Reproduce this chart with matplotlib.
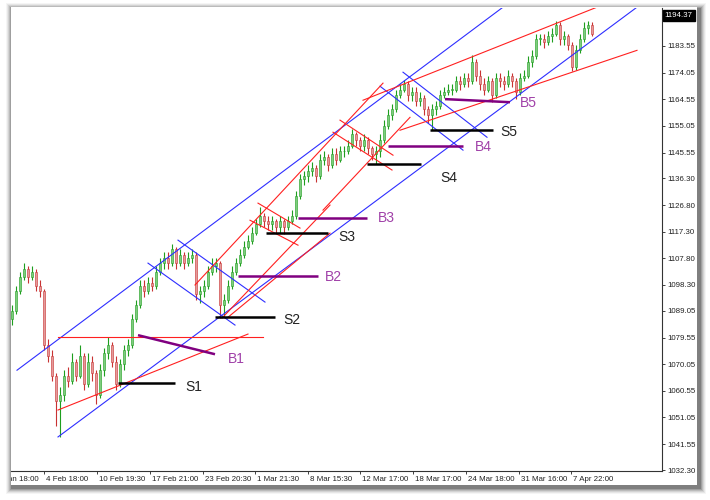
import matplotlib
matplotlib.use("Agg")
import matplotlib.pyplot as plt
from matplotlib.patches import Rectangle
from matplotlib.transforms import Bbox, TransformedBbox, blended_transform_factory

plt.rcParams['font.family'] = ['Liberation Sans', 'DejaVu Sans']

# bar data, one bar per slot (x = bar number)
first_open = 1086
closes = [
    1089, 1096, 1101, 1104, 1101, 1103, 1098, 1096, 1077, 1073,
    1066, 1057, 1059, 1066, 1064, 1071, 1066, 1073, 1063, 1071,
    1067, 1059, 1068, 1074, 1077, 1071, 1063, 1070, 1075, 1077,
    1086, 1091, 1098, 1096, 1099, 1098, 1103, 1106, 1108, 1106,
    1111, 1106, 1109, 1106, 1108, 1109, 1095, 1096, 1098, 1103,
    1105, 1106, 1091, 1093, 1098, 1103, 1106, 1109, 1112, 1114,
    1117, 1120, 1123, 1121, 1120, 1121, 1119, 1121, 1119, 1121,
    1123, 1130, 1136, 1137, 1139, 1140, 1137, 1143, 1144, 1141,
    1145, 1143, 1146, 1146, 1148, 1152, 1150, 1148, 1150, 1147,
    1145, 1146, 1150, 1155, 1159, 1161, 1166, 1168, 1170, 1166,
    1167, 1164, 1165, 1161, 1159, 1161, 1162, 1166, 1167, 1168,
    1168, 1171, 1170, 1172, 1171, 1178, 1173, 1170, 1168, 1171,
    1166, 1172, 1171, 1170, 1173, 1171, 1167, 1172, 1173, 1178,
    1180, 1186, 1186, 1185, 1187, 1188, 1191, 1186, 1187, 1184,
    1176, 1182, 1186, 1190, 1191, 1188,
]
highs = [
    1091, 1098, 1103, 1106, 1105, 1105, 1104, 1100, 1097, 1079,
    1075, 1067, 1062, 1068, 1069, 1074, 1072, 1077, 1074, 1074,
    1073, 1068, 1070, 1076, 1079.6, 1078, 1073, 1072, 1077, 1079,
    1088, 1093, 1100, 1100, 1101, 1101, 1105, 1108, 1110, 1110,
    1113, 1112, 1111, 1110, 1110, 1111, 1110, 1098, 1100, 1105,
    1108, 1108, 1107, 1095, 1100, 1105, 1108, 1111, 1114, 1116,
    1119, 1122, 1126, 1124, 1123, 1123, 1122, 1123, 1122, 1123,
    1125, 1132, 1138, 1139, 1141, 1142, 1141, 1145, 1146, 1145,
    1147, 1147, 1148, 1148, 1150, 1154, 1153, 1151, 1152, 1151,
    1148, 1148, 1152, 1157, 1161, 1163, 1168, 1170, 1171.5, 1171,
    1169, 1169, 1167, 1166, 1162, 1163, 1164, 1168, 1169, 1170,
    1170, 1173, 1173, 1174, 1174, 1180.5, 1179, 1175, 1172, 1173,
    1172, 1174, 1174, 1173, 1175, 1174, 1172, 1174, 1175, 1180,
    1182, 1188, 1188, 1188, 1189, 1190, 1192.5, 1192, 1189, 1188,
    1185, 1184, 1188, 1192, 1192.5, 1192,
]
lows = [
    1084, 1088, 1095, 1100, 1099, 1100, 1096, 1094, 1075, 1071,
    1064, 1048, 1044, 1057, 1062, 1063, 1064, 1065, 1061, 1062,
    1064, 1056, 1058, 1066, 1072, 1069, 1061, 1062, 1068, 1073,
    1076, 1085, 1090, 1094, 1095, 1096, 1097, 1102, 1104, 1104,
    1105, 1104, 1105, 1104, 1105, 1106, 1093, 1092, 1094, 1097,
    1102, 1103, 1086.5, 1087, 1092, 1097, 1102, 1105, 1108, 1111,
    1113, 1116, 1119, 1119, 1118, 1118, 1117, 1117, 1116.5, 1118,
    1120, 1122, 1129, 1134, 1135, 1137, 1135, 1136, 1141, 1139,
    1140, 1141, 1142, 1144, 1145, 1147, 1148, 1146, 1146, 1145,
    1143, 1141.5, 1144, 1149, 1154, 1157, 1160, 1165, 1167, 1164,
    1164, 1162, 1162, 1159, 1156, 1153.5, 1159, 1161, 1165, 1166,
    1166, 1167, 1168, 1169, 1169, 1170, 1171, 1168, 1166, 1167,
    1163.5, 1165, 1169, 1168, 1169, 1169, 1164.5, 1166, 1171, 1172,
    1176, 1179, 1184, 1183, 1184, 1185, 1187, 1184, 1184, 1182,
    1174.5, 1175, 1181, 1185, 1188, 1187,
]
opens = [first_open] + closes[:-1]

# price scale
price_ticks = [1032.30, 1041.55, 1051.05, 1060.55, 1070.05, 1079.55, 1089.05,
               1098.30, 1107.80, 1117.30, 1126.80, 1136.30, 1145.55, 1155.05,
               1164.55, 1174.05, 1183.55, 1193.05]
last_price = 1194.37

# time scale (bar number of each label)
time_pos = [8, 21.25, 34.5, 47.75, 60.75, 74, 87, 100.25, 113.5, 126.75, 139.75]
time_labels = ['4 Feb 18:00', '10 Feb 19:30', '17 Feb 21:00', '23 Feb 20:30',
               '1 Mar 21:30', '8 Mar 15:30', '12 Mar 17:00', '18 Mar 17:00',
               '24 Mar 18:00', '31 Mar 16:00', '7 Apr 22:00']
first_label_pos = -5.25
first_label = '28 Jan 18:00'

# trend lines: ((bar, price), (bar, price))
blue_lines = [
    ((1.25, 1067.9), (122.75, 1197.4)),
    ((11.5, 1044.1), (156.25, 1197.4)),
    ((41.5, 1114.3), (63.25, 1092.2)),
    ((34.0, 1106.1), (55.75, 1084.0)),
    ((97.75, 1174.2), (118.75, 1151.0)),
    ((92.0, 1169.2), (112.75, 1146.4)),
]
red_lines = [
    ((11.5, 1079.7), (62.75, 1079.7)),
    ((11.5, 1053.7), (59.0, 1080.8)),
    ((61.5, 1127.5), (72.0, 1118.6)),
    ((59.5, 1121.4), (71.5, 1112.5)),
    ((82.0, 1157.1), (95.25, 1144.6)),
    ((80.25, 1152.8), (95.0, 1139.3)),
    ((45.75, 1098.3), (92.75, 1170.3)),
    ((52.5, 1086.5), (79.5, 1126.8)),
    ((53.75, 1086.5), (79.5, 1116.8)),
    ((77.75, 1125.0), (99.5, 1158.1)),
    ((87.75, 1164.2), (146.25, 1197.4)),
    ((97.0, 1153.5), (156.25, 1182.0)),
]
buy_lines = [
    ((31.5, 1080.4), (50.75, 1073.6)),
    ((56.5, 1101.4), (76.5, 1101.4)),
    ((71.5, 1122.1), (88.75, 1122.1)),
    ((94.0, 1147.8), (112.75, 1147.8)),
    ((108.25, 1164.6), (124.5, 1163.5)),
]
buy_names = ['B1', 'B2', 'B3', 'B4', 'B5']
buy_text = [(54.0, 1072.0), (78.25, 1101.0), (91.5, 1122.1), (115.75, 1147.4), (127.0, 1163.2)]
sell_lines = [
    ((26.5, 1063.3), (40.75, 1063.3)),
    ((50.75, 1086.8), (65.75, 1086.8)),
    ((63.5, 1116.8), (79.0, 1116.8)),
    ((88.75, 1141.4), (102.25, 1141.4)),
    ((104.5, 1153.5), (120.25, 1153.5)),
]
sell_names = ['S1', 'S2', 'S3', 'S4', 'S5']
sell_text = [(43.25, 1062.0), (67.75, 1085.8), (81.5, 1115.4), (107.0, 1136.4), (122.0, 1152.8)]

W, H = 710, 500
fig = plt.figure(figsize=(W / 100, H / 100), dpi=100)
fig.patch.set_facecolor('white')

# card with soft shadow
for k, a in enumerate([0.04, 0.06, 0.08, 0.11, 0.15, 0.2]):
    grow = 6 - k
    fig.patches.append(Rectangle(((10 - grow + 2) / W, (500 - 486 - grow - 2) / H),
                                 (688 + 2 * grow) / W, (479 + 2 * grow) / H,
                                 transform=fig.transFigure, facecolor='black',
                                 alpha=a, edgecolor='none', zorder=0))
fig.patches.append(Rectangle((11 / W, (500 - 485) / H), 686 / W, 478 / H,
                             transform=fig.transFigure, facecolor='white',
                             edgecolor='none', zorder=1))

ax = fig.add_axes([11 / W, (500 - 471) / H, 651 / W, 463 / H])
ax.set_facecolor('none')
ax.set_zorder(2)

# candles
for i, (o, hi, lo, c) in enumerate(zip(opens, highs, lows, closes)):
    if c >= o:
        wick, body = '#1e9e1e', '#7fcc7f'
    else:
        wick, body = '#c83232', '#e49a9a'
    ax.vlines(i, lo, hi, color=wick, lw=0.8, zorder=2)
    ax.bar(i, max(abs(c - o), 0.25), bottom=min(o, c), width=0.5,
           color=body, edgecolor=wick, linewidth=0.4, zorder=2)

for (x0, y0), (x1, y1) in blue_lines:
    ax.plot([x0, x1], [y0, y1], color='#2e2eff', lw=0.8, zorder=3)
for (x0, y0), (x1, y1) in red_lines:
    ax.plot([x0, x1], [y0, y1], color='#ff2020', lw=0.8, zorder=3)
for ((x0, y0), (x1, y1)), name, (tx, ty) in zip(buy_lines, buy_names, buy_text):
    ax.plot([x0, x1], [y0, y1], color='#800080', lw=1.8, zorder=4,
            solid_capstyle='butt')
    ax.text(tx, ty, name, color='#a040a8', fontsize=10, va='center', ha='left')
for ((x0, y0), (x1, y1)), name, (tx, ty) in zip(sell_lines, sell_names, sell_text):
    ax.plot([x0, x1], [y0, y1], color='black', lw=1.8, zorder=4,
            solid_capstyle='butt')
    ax.text(tx, ty, name, color='#222222', fontsize=10, va='center', ha='left')

ax.set_xlim(-0.25, 162.5)
ax.set_ylim(1031.95, 1197.1)

for side in ['left', 'top']:
    ax.spines[side].set_visible(False)
for side in ['right', 'bottom']:
    ax.spines[side].set_color('#333333')
    ax.spines[side].set_linewidth(0.8)

ax.yaxis.tick_right()
ax.set_yticks(price_ticks)
ax.set_yticklabels([f'{p:.2f}' for p in price_ticks])
ax.tick_params(axis='y', length=2.5, width=0.6, pad=1.5, labelsize=5.7,
               colors='#222222')

ax.set_xticks(time_pos)
ax.set_xticklabels([])
ax.tick_params(axis='x', length=2.5, width=0.6, colors='#222222')
trans = blended_transform_factory(ax.transData, ax.transAxes)
for pos, lab in zip(time_pos, time_labels):
    ax.text(pos + 0.4, -0.011, lab, transform=trans, fontsize=5.7, va='top',
            ha='left', color='#222222', clip_on=False)
t = ax.text(first_label_pos + 0.4, -0.011, first_label, transform=trans,
            fontsize=5.7, va='top', ha='left', color='#222222')
t.set_clip_box(TransformedBbox(Bbox([[11 / W, 0], [1, 1]]), fig.transFigure))
t.set_clip_on(True)

# current price marker
ax.text(1.004, last_price, f'{last_price:.2f}',
        transform=blended_transform_factory(ax.transAxes, ax.transData),
        fontsize=5.7, color='white', va='center', ha='left', clip_on=False,
        bbox=dict(boxstyle='square,pad=0.25', facecolor='black', edgecolor='black'))

fig.savefig('out.png', dpi=100)
